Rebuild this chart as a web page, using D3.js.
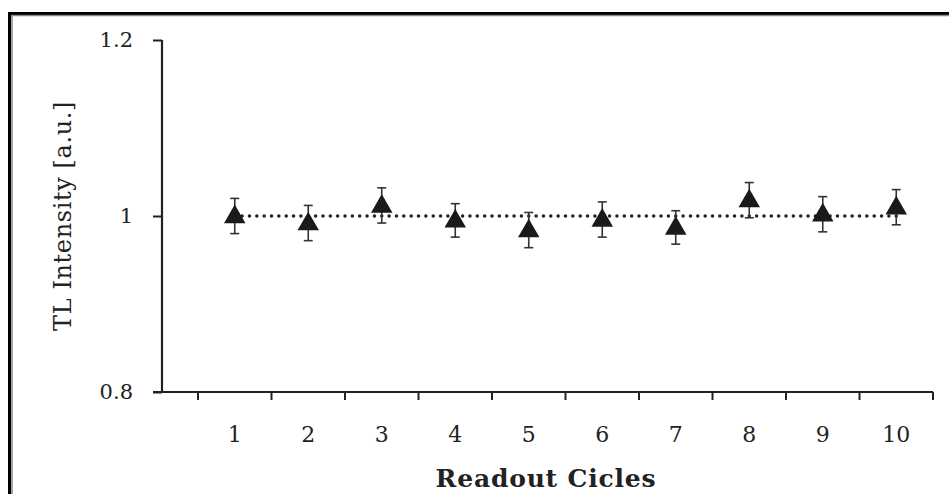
<!DOCTYPE html>
<html>
<head>
  <meta charset="utf-8">
  <script src="https://d3js.org/d3.v7.min.js"></script>
  <style>
    body { margin: 0; background: #fff; }
    svg { display: block; font-family: "DejaVu Serif", "Liberation Serif", serif; }
  </style>
</head>
<body>
<svg width="949" height="494"></svg>
<script>
// readout cycles and normalised TL intensity with error (+/-)
var cycles = [1, 2, 3, 4, 5, 6, 7, 8, 9, 10];
var intensity = [1.000, 0.992, 1.012, 0.995, 0.984, 0.996, 0.987, 1.018, 1.002, 1.010];
var errors = [0.020, 0.020, 0.020, 0.019, 0.020, 0.020, 0.019, 0.020, 0.020, 0.020];
var yTicks = [0.8, 1, 1.2];
var refLevel = 1;

var svg = d3.select("svg");

// frame (double line, black outside, grey inside)
svg.append("path").attr("d", "M9.5,494 V13.5 H949")
  .attr("fill", "none").attr("stroke", "#000").attr("stroke-width", 3);
svg.append("path").attr("d", "M12,494 V15.5 H949")
  .attr("fill", "none").attr("stroke", "#888").attr("stroke-width", 1.5);

var x = d3.scaleLinear().domain([0.5, 10.5]).range([198, 933]);
var y = d3.scaleLinear().domain([0.8, 1.2]).range([392, 40]);
var x0 = 162;

// y axis
var yAxis = d3.axisLeft(y).tickValues(yTicks).tickSize(9).tickPadding(20)
  .tickFormat(function(d) { return d === 1 ? "1" : d3.format(".1f")(d); });
var gy = svg.append("g").attr("transform", "translate(" + x0 + ",0)").call(yAxis);
gy.select(".domain").remove();
gy.append("line").attr("x1", 0).attr("x2", 0).attr("y1", y(1.2)).attr("y2", y(0.8))
  .attr("stroke", "#222").attr("stroke-width", 2.2);
gy.selectAll(".tick line").attr("stroke", "#222").attr("stroke-width", 2);
gy.selectAll(".tick text").attr("font-size", 21).attr("fill", "#222")
  .attr("font-family", "DejaVu Serif");

// x axis
var gx = svg.append("g").attr("transform", "translate(0," + y(0.8) + ")");
gx.append("line").attr("x1", x0 - 9).attr("x2", x(10.5)).attr("y1", 0).attr("y2", 0)
  .attr("stroke", "#222").attr("stroke-width", 2.2);
gx.selectAll(".xt").data(d3.range(0.5, 11, 1)).enter().append("line")
  .attr("x1", function(d) { return x(d); }).attr("x2", function(d) { return x(d); })
  .attr("y1", 0).attr("y2", 8).attr("stroke", "#222").attr("stroke-width", 2);
gx.selectAll(".xl").data(cycles).enter().append("text")
  .attr("x", function(d) { return x(d); }).attr("y", 50)
  .attr("text-anchor", "middle").attr("font-size", 22).attr("fill", "#222")
  .text(function(d) { return d; });

// axis titles
svg.append("text").attr("x", 546).attr("y", 487).attr("text-anchor", "middle")
  .attr("font-size", 25).attr("font-weight", "bold").attr("fill", "#222")
  .attr("letter-spacing", 0.8)
  .text("Readout Cicles");
svg.append("text").attr("transform", "translate(71,216) rotate(-90)")
  .attr("text-anchor", "middle").attr("font-size", 24).attr("fill", "#222")
  .attr("letter-spacing", 0.6)
  .text("TL Intensity [a.u.]");

// dotted reference line
svg.append("line").attr("x1", x(1)).attr("x2", x(10))
  .attr("y1", y(refLevel)).attr("y2", y(refLevel))
  .attr("stroke", "#222").attr("stroke-width", 3.5)
  .attr("stroke-dasharray", "0,7.35").attr("stroke-linecap", "round");

// error bars
var pts = cycles.map(function(c, i) { return { c: c, v: intensity[i], e: errors[i] }; });
var eb = svg.selectAll(".eb").data(pts).enter().append("g")
  .attr("stroke", "#333").attr("stroke-width", 1.6);
eb.append("line")
  .attr("x1", function(d) { return x(d.c); }).attr("x2", function(d) { return x(d.c); })
  .attr("y1", function(d) { return y(d.v + d.e); }).attr("y2", function(d) { return y(d.v - d.e); });
eb.append("line")
  .attr("x1", function(d) { return x(d.c) - 4.5; }).attr("x2", function(d) { return x(d.c) + 4.5; })
  .attr("y1", function(d) { return y(d.v + d.e); }).attr("y2", function(d) { return y(d.v + d.e); });
eb.append("line")
  .attr("x1", function(d) { return x(d.c) - 4.5; }).attr("x2", function(d) { return x(d.c) + 4.5; })
  .attr("y1", function(d) { return y(d.v - d.e); }).attr("y2", function(d) { return y(d.v - d.e); });

// triangle markers
var tri = d3.symbol().type(d3.symbolTriangle).size(200);
svg.selectAll(".pt").data(pts).enter().append("path")
  .attr("d", tri)
  .attr("transform", function(d) { return "translate(" + x(d.c) + "," + (y(d.v) + 1) + ")"; })
  .attr("fill", "#1a1a1a");
</script>
</body>
</html>
